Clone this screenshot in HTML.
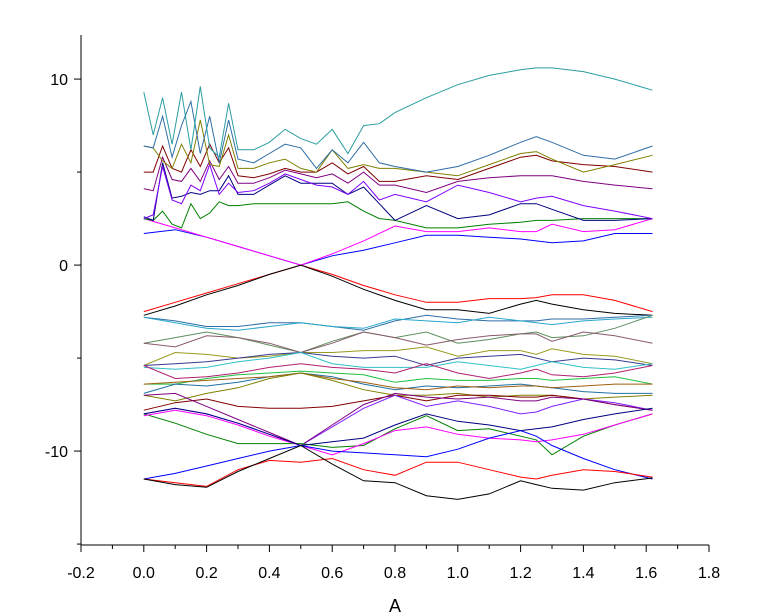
<!DOCTYPE html>
<html><head><meta charset="utf-8"><style>
html,body{margin:0;padding:0;background:#fff;}
svg{display:block;font-family:"Liberation Sans",sans-serif;}
</style></head><body>
<svg id="chart" width="764" height="615" viewBox="0 0 764 615"></svg>
<script>
const kUpper=[0,0.03,0.06,0.09,0.12,0.15,0.18,0.21,0.24,0.27,0.3,0.35,0.4,0.45,0.5,0.55,0.6,0.65,0.7,0.75,0.8,0.9,1.0,1.1,1.2,1.25,1.3,1.4,1.5,1.62];
const kGrid=[0,0.1,0.2,0.3,0.4,0.5,0.6,0.7,0.8,0.9,1.0,1.1,1.2,1.25,1.3,1.4,1.5,1.62];
const upperBands=[
[9.3,7.0,9.0,6.5,9.3,6.2,9.6,6.3,5.8,8.7,6.2,6.2,6.6,7.3,6.8,6.5,7.3,6.0,7.5,7.6,8.2,9.0,9.7,10.2,10.5,10.6,10.6,10.4,10.0,9.4],
[6.4,6.3,8.0,5.8,7.5,8.8,6.0,8.0,5.5,7.8,5.7,5.5,6.0,6.5,6.3,5.2,6.2,5.5,6.6,5.5,5.3,5.0,5.3,5.9,6.6,6.9,6.6,5.9,5.7,6.4],
[6.4,6.3,5.6,5.2,6.5,5.5,7.8,5.4,5.3,7.0,5.2,5.2,5.5,5.7,5.2,5.0,6.2,5.2,5.4,5.2,5.2,5.0,4.8,5.4,6.0,6.1,5.7,5.0,5.4,5.9],
[5.0,5.0,6.4,5.2,5.0,6.2,5.3,6.5,5.5,6.3,4.8,4.7,4.9,5.2,5.0,5.0,5.5,4.9,5.3,4.5,4.5,4.8,4.6,5.2,5.8,5.9,5.6,5.4,5.3,5.0],
[4.1,4.0,5.8,4.6,4.5,5.2,4.5,5.6,4.6,5.3,4.4,4.4,4.7,5.1,4.9,4.7,4.9,4.4,5.0,4.3,4.3,3.9,4.5,4.7,4.8,4.8,4.8,4.5,4.3,4.1],
[2.5,2.7,5.3,3.5,3.3,4.3,4.0,5.4,3.8,4.4,3.9,4.0,4.4,4.9,4.6,4.3,4.2,3.8,4.5,3.5,3.8,3.4,4.3,3.9,3.4,3.6,3.7,3.2,2.9,2.5],
[2.6,2.4,5.5,3.6,3.7,3.9,3.8,4.0,4.0,4.8,3.8,3.8,4.3,4.8,4.4,4.4,4.4,3.8,4.2,3.3,2.4,3.2,2.5,2.7,3.3,3.3,3.0,2.4,2.4,2.5],
[2.5,2.4,2.9,2.2,2.0,3.3,2.5,2.8,3.4,3.2,3.2,3.3,3.3,3.3,3.3,3.3,3.3,3.4,2.9,2.5,2.4,2.0,2.0,2.2,2.3,2.4,2.4,2.5,2.5,2.5]
];
const upperColors=["#2a9ea0","#2e6ea6","#808000","#800000","#800080","#8000ff","#000080","#008000"];
const gridBands=[
[1.7,1.9,1.5,1.0,0.5,0,0.5,0.8,1.2,1.6,1.6,1.5,1.4,1.3,1.2,1.3,1.7,1.7],
[2.5,2.0,1.5,1.0,0.5,0,0.6,1.3,2.1,1.8,1.8,2.0,1.8,1.8,2.2,1.8,1.9,2.5],
[-2.5,-2.0,-1.5,-1.0,-0.5,0,-0.5,-1.1,-1.6,-2.0,-2.0,-1.8,-1.8,-1.75,-1.6,-1.6,-1.9,-2.5],
[-2.7,-2.2,-1.6,-1.1,-0.5,0,-0.6,-1.3,-1.9,-2.4,-2.4,-2.6,-2.1,-1.9,-2.1,-2.4,-2.6,-2.7],
[-2.8,-3.0,-3.3,-3.3,-3.1,-3.1,-3.3,-3.5,-3.0,-2.7,-2.9,-3.0,-3.0,-3.0,-2.9,-2.9,-2.8,-2.7],
[-2.8,-3.1,-3.4,-3.5,-3.3,-3.1,-3.3,-3.4,-2.9,-3.0,-3.1,-2.8,-3.0,-3.1,-3.2,-3.0,-2.9,-2.8],
[-4.2,-3.9,-3.6,-3.9,-4.3,-4.7,-4.1,-3.6,-3.9,-3.6,-4.2,-4.0,-3.7,-3.6,-3.9,-3.8,-3.4,-2.7],
[-4.2,-4.4,-3.8,-3.9,-4.2,-4.7,-4.2,-3.6,-3.9,-4.3,-4.0,-3.8,-3.7,-3.7,-4.1,-3.6,-3.8,-4.2],
[-5.4,-4.7,-4.8,-5.0,-4.9,-4.7,-4.7,-4.6,-4.6,-4.4,-4.9,-4.6,-4.6,-4.8,-4.5,-4.8,-4.9,-5.3],
[-5.4,-5.3,-5.2,-5.0,-4.8,-4.7,-4.9,-5.0,-4.9,-5.4,-5.0,-4.9,-4.8,-5.0,-5.2,-5.0,-5.1,-5.4],
[-5.5,-5.6,-5.5,-5.2,-5.0,-4.7,-5.3,-5.5,-5.5,-5.5,-5.2,-5.4,-5.6,-5.4,-5.2,-5.5,-5.6,-5.3],
[-5.4,-6.1,-6.0,-5.8,-5.5,-5.3,-5.5,-5.6,-5.8,-5.3,-5.8,-6.1,-5.8,-5.6,-5.9,-6.0,-5.8,-5.4],
[-6.4,-6.4,-6.1,-5.9,-5.8,-5.7,-5.8,-5.9,-6.3,-6.1,-6.2,-6.2,-6.1,-6.1,-6.2,-6.1,-6.0,-6.4],
[-6.9,-6.4,-6.5,-6.3,-6.0,-5.8,-6.0,-6.4,-6.7,-6.5,-6.6,-6.5,-6.4,-6.5,-6.6,-6.8,-6.9,-6.9],
[-6.4,-6.3,-6.2,-6.1,-6.0,-5.8,-6.1,-6.3,-6.6,-6.7,-6.5,-6.6,-6.5,-6.5,-6.6,-6.5,-6.4,-6.4],
[-7.0,-7.3,-6.9,-6.6,-6.1,-5.8,-6.2,-6.7,-7.0,-7.0,-6.9,-7.1,-7.0,-7.0,-7.0,-7.2,-7.1,-7.0],
[-7.8,-7.4,-7.2,-7.6,-7.7,-7.7,-7.6,-7.3,-7.0,-7.3,-7.0,-7.0,-7.1,-7.1,-7.0,-7.2,-7.5,-7.8],
[-8.0,-7.7,-8.0,-8.5,-9.1,-9.7,-8.7,-7.7,-7.0,-7.6,-7.3,-7.6,-8.0,-7.9,-7.6,-7.2,-7.4,-7.8],
[-7.0,-6.9,-7.6,-8.3,-9.0,-9.7,-8.6,-7.5,-6.9,-7.1,-7.2,-7.1,-7.3,-7.3,-7.1,-7.2,-7.5,-7.8],
[-8.0,-8.5,-9.1,-9.6,-9.6,-9.6,-9.8,-9.7,-8.8,-8.1,-8.9,-8.8,-9.2,-9.4,-10.2,-9.2,-8.6,-8.0],
[-8.1,-7.8,-8.1,-8.6,-9.2,-9.7,-10.2,-9.6,-8.9,-8.7,-9.1,-9.3,-9.4,-9.5,-9.4,-9.1,-8.6,-8.0],
[-8.0,-7.7,-8.0,-8.5,-9.1,-9.7,-9.5,-9.3,-8.6,-8.0,-8.4,-8.6,-8.9,-8.8,-8.7,-8.3,-8.0,-7.7],
[-11.5,-11.2,-10.8,-10.4,-10.0,-9.7,-10.0,-10.1,-10.2,-10.3,-9.9,-9.3,-8.9,-9.2,-9.7,-10.4,-11.0,-11.5],
[-11.5,-11.7,-11.9,-11.0,-10.5,-10.6,-10.4,-11.0,-11.3,-10.6,-10.6,-11.0,-11.4,-11.5,-11.3,-11.0,-11.1,-11.4],
[-11.5,-11.8,-11.95,-11.1,-10.4,-9.7,-10.7,-11.6,-11.7,-12.4,-12.6,-12.3,-11.6,-11.8,-12.0,-12.1,-11.7,-11.45]
];
const gridColors=["#0000ff","#ff00ff","#ff0000","#000000","#2e6ea6","#29a8cc","#5f8f5f","#8a5a6a","#9a9a20","#3a3a90","#30c0c8","#b02070","#20c040","#2070a0","#a06010","#808000","#800000","#8020ff","#800080","#008000","#ff00ff","#000080","#0000ff","#ff0000","#000000"];
const xTicks=[-0.2,0.0,0.2,0.4,0.6,0.8,1.0,1.2,1.4,1.6,1.8];
const yTicks=[-10,0,10];

const NS="http://www.w3.org/2000/svg";
const svg=document.getElementById('chart');
const X0=81,X1=709,Y0=35,Y1=545;
const xMin=-0.2,xMax=1.8,yMin=-15.05,yMax=12.37;
function sx(k){return X0+(k-xMin)/(xMax-xMin)*(X1-X0);}
function sy(e){return Y1-(e-yMin)/(yMax-yMin)*(Y1-Y0);}
function mk(tag,attrs){const el=document.createElementNS(NS,tag);for(const a in attrs)el.setAttribute(a,attrs[a]);svg.appendChild(el);return el;}

const gBands=document.createElementNS(NS,'g');


svg.appendChild(gBands);
function drawBand(ks,vals,color,idx){
  const p=document.createElementNS(NS,'polyline');
  p.setAttribute('points',ks.map((k,i)=>sx(k).toFixed(1)+','+sy(vals[i]).toFixed(1)).join(' '));
  p.setAttribute('fill','none');p.setAttribute('stroke',color);p.setAttribute('stroke-width','1');
  
  
  gBands.appendChild(p);
}
gridBands.forEach((b,i)=>drawBand(kGrid,b,gridColors[i],'low-'+i));
upperBands.slice().reverse().forEach((b,i)=>{const j=upperBands.length-1-i;drawBand(kUpper,b,upperColors[j],'up-'+j);});

let a=mk('line',{x1:X0,y1:Y0,x2:X0,y2:Y1,stroke:'#000','stroke-width':1});


a=mk('line',{x1:X0,y1:Y1,x2:X1,y2:Y1,stroke:'#000','stroke-width':1});


for(let v=-0.2;v<=1.8001;v+=0.1){
  const major=Math.abs(Math.round(v*10)%2)===0;
  const t=mk('line',{x1:sx(v),y1:Y1,x2:sx(v),y2:Y1+(major?7:4),stroke:'#000'});
  
  
}
xTicks.forEach(v=>{
  const t=mk('text',{x:sx(v),y:578,'text-anchor':'middle','font-size':16,fill:'#000'});
  t.textContent=v.toFixed(1);
  
  
});
for(let v=-15;v<=10;v+=5){
  const major=v%10===0;
  const t=mk('line',{x1:X0,y1:sy(v),x2:X0-(major?7:4),y2:sy(v),stroke:'#000'});
  
  
}
yTicks.forEach(v=>{
  const t=mk('text',{x:68,y:sy(v)+6,'text-anchor':'end','font-size':16,fill:'#000'});
  t.textContent=String(v);
  
  
});
const xl=mk('text',{x:395,y:612,'text-anchor':'middle','font-size':18,fill:'#000'});
xl.textContent='A';


</script>
</body></html>
